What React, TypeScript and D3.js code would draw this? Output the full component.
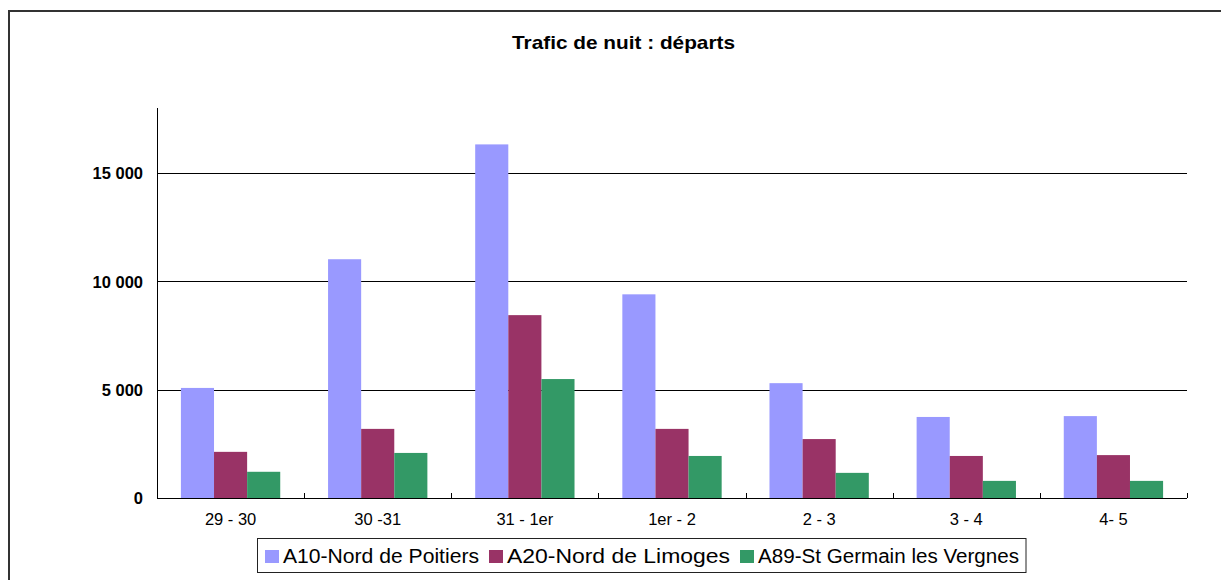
import React, { useEffect, useRef } from "react";
import * as d3 from "d3";

const categories = ["29 - 30", "30 -31", "31 - 1er", "1er - 2", "2 - 3", "3 - 4", "4- 5"];
const seriesNames = ["A10-Nord de Poitiers", "A20-Nord de Limoges", "A89-St Germain les Vergnes"];
const seriesColors = ["#9999FF", "#993366", "#339966"];
const a10 = [5080, 11020, 16320, 9400, 5300, 3740, 3780];
const a20 = [2130, 3190, 8440, 3190, 2720, 1940, 1980];
const a89 = [1210, 2080, 5490, 1940, 1160, 790, 790];
const yTicks = [0, 5000, 10000, 15000];

const FONT = "'Liberation Sans', Arial, sans-serif";
// legend label widths (text is slightly stretched in the original)
const legendTextW = [196, 223, 261];

export default function App() {
  const ref = useRef<SVGSVGElement>(null);

  useEffect(() => {
    const svg = d3.select(ref.current);
    svg.selectAll("*").remove();

    const left = 157, right = 1187, top = 108, bottom = 498;
    const series = [a10, a20, a89];

    svg.append("rect")
      .attr("x", 9).attr("y", 11)
      .attr("width", 1230).attr("height", 590)
      .attr("fill", "white")
      .attr("stroke", "#333").attr("stroke-width", 2);

    svg.append("text")
      .attr("x", 512).attr("y", 49)
      .attr("font-family", FONT)
      .attr("font-weight", "bold")
      .attr("font-size", 18.5)
      .attr("textLength", 223)
      .attr("lengthAdjust", "spacingAndGlyphs")
      .text("Trafic de nuit : départs");

    const x = d3.scaleBand().domain(categories).range([left, right]).paddingInner(0.325).paddingOuter(0.1625);
    const xs = d3.scaleBand().domain(seriesNames).range([0, x.bandwidth()]);
    const y = d3.scaleLinear().domain([0, 18000]).range([bottom, top]);

    // gridlines
    svg.append("g")
      .selectAll("line")
      .data(yTicks.filter(t => t > 0))
      .join("line")
      .attr("x1", left).attr("x2", right)
      .attr("y1", d => Math.round(y(d)) + 0.5).attr("y2", d => Math.round(y(d)) + 0.5)
      .attr("stroke", "black");

    // y labels
    const fmt = (v: number) => d3.format(",")(v).replace(/,/g, " ");
    svg.append("g")
      .selectAll("text")
      .data(yTicks)
      .join("text")
      .attr("x", 143)
      .attr("y", d => y(d))
      .attr("dy", "0.38em")
      .attr("text-anchor", "end")
      .attr("font-family", FONT)
      .attr("font-weight", "bold")
      .attr("font-size", 16.5)
      .text(d => fmt(d));

    // bars
    series.forEach((vals, si) => {
      svg.append("g")
        .attr("fill", seriesColors[si])
        .selectAll("rect")
        .data(vals)
        .join("rect")
        .attr("x", (d, i) => x(categories[i])! + xs(seriesNames[si])!)
        .attr("width", xs.bandwidth())
        .attr("y", d => y(d))
        .attr("height", d => bottom - y(d));
    });

    // axes lines
    svg.append("line")
      .attr("x1", left + 0.5).attr("x2", left + 0.5)
      .attr("y1", top).attr("y2", bottom + 0.5)
      .attr("stroke", "black");
    svg.append("line")
      .attr("x1", left).attr("x2", right)
      .attr("y1", bottom + 0.5).attr("y2", bottom + 0.5)
      .attr("stroke", "black");

    const step = x.step();
    svg.append("g")
      .selectAll("line")
      .data(d3.range(1, categories.length + 1))
      .join("line")
      .attr("x1", i => Math.round(left + i * step) + 0.5)
      .attr("x2", i => Math.round(left + i * step) + 0.5)
      .attr("y1", bottom - 5).attr("y2", bottom)
      .attr("stroke", "black");

    svg.append("g")
      .selectAll("text")
      .data(categories)
      .join("text")
      .attr("x", d => x(d)! + x.bandwidth() / 2)
      .attr("y", 525)
      .attr("text-anchor", "middle")
      .attr("font-family", FONT)
      .attr("font-size", 16.5)
      .text(d => d);

    // legend
    const lg = svg.append("g");
    lg.append("rect")
      .attr("x", 257.5).attr("y", 538.5)
      .attr("width", 1026 - 257.5).attr("height", 34)
      .attr("fill", "white")
      .attr("stroke", "#222").attr("stroke-width", 1);
    let cx = 265;
    seriesNames.forEach((name, i) => {
      lg.append("rect")
        .attr("x", cx).attr("y", 550)
        .attr("width", 14).attr("height", 13)
        .attr("fill", seriesColors[i]);
      lg.append("text")
        .attr("x", cx + 18).attr("y", 563)
        .attr("font-family", FONT)
        .attr("font-size", 19.5)
        .attr("textLength", legendTextW[i])
        .attr("lengthAdjust", "spacingAndGlyphs")
        .text(name);
      cx = cx + 18 + legendTextW[i] + 10;
    });
  }, []);

  return (
    <svg
      ref={ref}
      width={1221}
      height={580}
      style={{ position: "absolute", left: 0, top: 0, display: "block" }}
    />
  );
}
